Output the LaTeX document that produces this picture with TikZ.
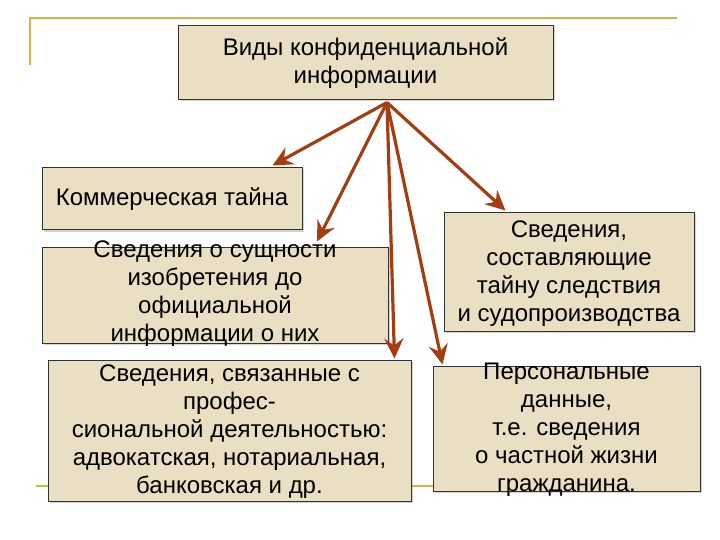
\documentclass[tikz,border=0pt]{standalone}
\usepackage{fontspec}
\setmainfont{Liberation Sans}
\usetikzlibrary{arrows.meta,shadows}
\definecolor{olivel}{RGB}{198,185,74}
\definecolor{paper}{RGB}{235,223,195}
\definecolor{arrowc}{RGB}{164,62,18}
\definecolor{edgec}{RGB}{50,50,50}
\begin{document}
\begin{tikzpicture}[x=1pt,y=-1pt,
  box/.style={draw=edgec, line width=1pt, fill=paper, inner sep=0pt,
    drop shadow={shadow xshift=1.5pt, shadow yshift=-1.5pt, opacity=0.35}},
  txt/.style={align=center, font=\fontsize{24}{28}\selectfont, inner sep=0pt},
  arr/.style={draw=arrowc, line width=3.2pt, -{Stealth[length=20pt,width=19pt,inset=7pt]}},
  deco/.style={draw=olivel, line width=2pt}]
\useasboundingbox (0,0) rectangle (720,540);
% slide decoration lines
\coordinate (c1) at (30,65);
\coordinate (c2) at (30,18);
\coordinate (c3) at (677,18);
\draw[deco] (c1) -- (c2) -- (c3);
\coordinate (d1) at (36,486);
\coordinate (d2) at (690,486);
\draw[deco] (d1) -- (d2);
% boxes
\node[box, minimum width=375pt, minimum height=74pt] (top) at (365.5,63) {};
\node[box, minimum width=260pt, minimum height=62pt] (kt) at (172,199) {};
\node[box, minimum width=346pt, minimum height=96pt] (sush) at (215,295) {};
\node[box, minimum width=363pt, minimum height=141pt] (svyaz) at (229.5,430.5) {};
\node[box, minimum width=250pt, minimum height=118pt] (sost) at (569,272) {};
\node[box, minimum width=267pt, minimum height=125pt] (pers) at (566.5,428.5) {};
% texts
\node[txt] (ttop) at (top.center) {Виды конфиденциальной\\информации};
\node[txt] (tkt) at (kt.center) {Коммерческая тайна};
\node[txt] (tsush) at ([yshift=1pt]sush.center) {Сведения о сущности\\изобретения до\\официальной\\информации о них};
\node[txt] (tsvyaz) at ([yshift=-1pt]svyaz.center) {Сведения, связанные с\\профес-\\сиональной деятельностью:\\адвокатская, нотариальная,\\банковская и др.};
\node[txt] (tsost) at ([yshift=-2pt]sost.center) {Сведения,\\составляющие\\ тайну следствия\\и судопроизводства};
\node[txt] (tpers) at ([yshift=-1pt]pers.center) {Персональные\\данные,\\т.е. сведения\\о частной жизни\\гражданина.};
% arrows
\coordinate (src) at ([xshift=21.5pt,yshift=-2pt]top.south);
\draw[arr] (src) -- ([xshift=-30pt,yshift=2pt]kt.north east);
\draw[arr] (src) -- ([xshift=102pt,yshift=5pt]sush.north);
\draw[arr] (src) -- ([xshift=-17pt,yshift=1pt]svyaz.north east);
\draw[arr] (src) -- ([xshift=10pt,yshift=1pt]pers.north west);
\draw[arr] (src) -- ([xshift=62pt,yshift=2pt]sost.north west);
\end{tikzpicture}
\end{document}
